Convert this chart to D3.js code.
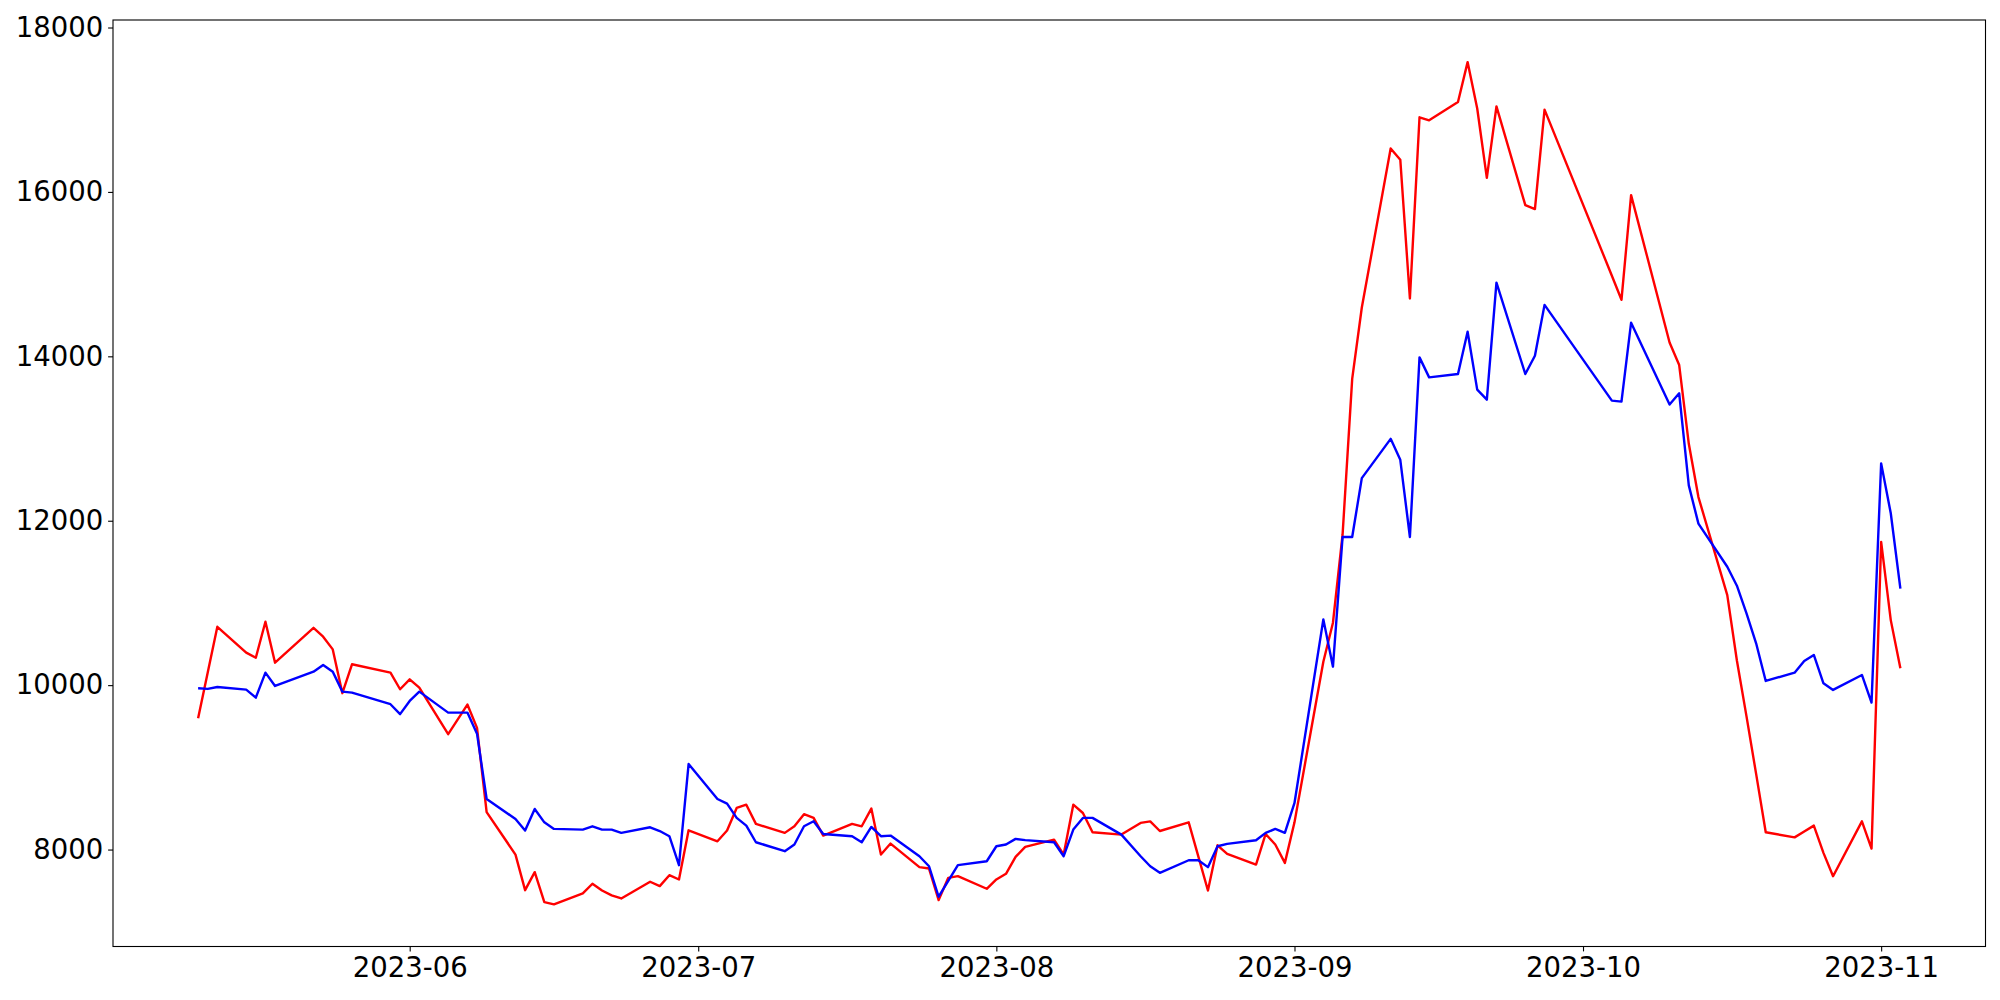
<!DOCTYPE html>
<html>
<head>
<meta charset="utf-8">
<script src="https://cdn.jsdelivr.net/npm/d3@7"></script>
<style>
  html, body { margin: 0; padding: 0; background: #ffffff; }
  svg { display: block; }
  text { font-family: "DejaVu Sans", sans-serif; }
</style>
</head>
<body>
<svg id="chart" width="2000" height="1000"></svg>
<script>
const dates = [
  "2023-05-10","2023-05-11","2023-05-12","2023-05-15","2023-05-16","2023-05-17","2023-05-18",
  "2023-05-22","2023-05-23","2023-05-24","2023-05-25","2023-05-26","2023-05-30","2023-05-31",
  "2023-06-01","2023-06-02","2023-06-05","2023-06-07","2023-06-08","2023-06-09","2023-06-12",
  "2023-06-13","2023-06-14","2023-06-15","2023-06-16","2023-06-19","2023-06-20","2023-06-21",
  "2023-06-22","2023-06-23","2023-06-26","2023-06-27","2023-06-28","2023-06-29","2023-06-30",
  "2023-07-03","2023-07-04","2023-07-05","2023-07-06","2023-07-07","2023-07-10","2023-07-11",
  "2023-07-12","2023-07-13","2023-07-14","2023-07-17","2023-07-18","2023-07-19","2023-07-20",
  "2023-07-21","2023-07-24","2023-07-25","2023-07-26","2023-07-27","2023-07-28","2023-07-31",
  "2023-08-01","2023-08-02","2023-08-03","2023-08-04","2023-08-07","2023-08-08","2023-08-09",
  "2023-08-10","2023-08-11","2023-08-14","2023-08-16","2023-08-17","2023-08-18","2023-08-21",
  "2023-08-22","2023-08-23","2023-08-24","2023-08-25","2023-08-28","2023-08-29","2023-08-30",
  "2023-08-31","2023-09-01","2023-09-04","2023-09-05","2023-09-06","2023-09-07","2023-09-08",
  "2023-09-11","2023-09-12","2023-09-13","2023-09-14","2023-09-15","2023-09-18","2023-09-19",
  "2023-09-20","2023-09-21","2023-09-22","2023-09-25","2023-09-26","2023-09-27","2023-10-04",
  "2023-10-05","2023-10-06","2023-10-10","2023-10-11","2023-10-12","2023-10-13","2023-10-16",
  "2023-10-17","2023-10-18","2023-10-19","2023-10-20","2023-10-23","2023-10-24","2023-10-25",
  "2023-10-26","2023-10-27","2023-10-30","2023-10-31","2023-11-01","2023-11-02","2023-11-03"
];

const redValues = [
  9598,10154,10710,10395,10334,10771,10273,
  10698,10589,10435,9902,10254,10152,9950,
  10071,9970,9404,9764,9480,8455,7939,
  7506,7725,7360,7333,7466,7584,7502,
  7442,7405,7608,7555,7688,7636,8234,
  8101,8231,8506,8546,8312,8203,8283,
  8430,8385,8170,8312,8283,8498,7939,
  8073,7786,7769,7385,7656,7676,7523,
  7636,7705,7911,8033,8121,7939,8546,
  8445,8210,8182,8324,8343,8226,8331,
  7917,7502,8052,7948,7818,8190,8061,
  7838,8331,10285,10760,11830,13725,14594,
  16528,16392,14703,16908,16871,17093,17579,
  17015,16171,17041,15840,15791,17001,14981,
  14688,15961,14169,13894,12936,12288,11095,
  10300,9620,8920,8210,8148,8220,8291,
  7960,7676,8343,8012,11742,10791,10205
];

const blueValues = [
  9962,9954,9978,9945,9848,10152,9990,
  10164,10245,10164,9921,9909,9768,9647,
  9808,9921,9666,9666,9410,8615,8372,
  8231,8494,8331,8251,8243,8283,8243,
  8243,8203,8271,8225,8162,7810,9040,
  8615,8558,8385,8291,8089,7980,8061,
  8283,8345,8190,8162,8089,8275,8162,
  8170,7919,7797,7426,7618,7810,7858,
  8040,8061,8130,8115,8089,7919,8243,
  8385,8385,8182,7919,7797,7717,7870,
  7870,7786,8040,8069,8113,8203,8251,
  8203,8567,10800,10225,11802,11802,12518,
  12996,12741,11802,13987,13744,13785,14299,
  13595,13473,14897,13785,14007,14626,13461,
  13449,14409,13413,13550,12430,11965,11440,
  11210,10873,10509,10051,10152,10294,10367,
  10022,9942,10124,9788,12698,12091,11173
];

const yTickValues = [8000, 10000, 12000, 14000, 16000, 18000];
const xTickLabels = ["2023-06","2023-07","2023-08","2023-09","2023-10","2023-11"];

const parse = d3.timeParse("%Y-%m-%d");
const parseMonth = d3.timeParse("%Y-%m");
const xDates = dates.map(parse);

const svg = d3.select("#chart");
const W = 2000, H = 1000;
const plot = { left: 113, right: 1985.5, top: 20, bottom: 946.5 };

svg.append("rect").attr("x", 0).attr("y", 0).attr("width", W).attr("height", H).attr("fill", "#ffffff");

// x domain with 5% margins (matplotlib autoscale)
const xExt = d3.extent(xDates);
const xSpan = xExt[1] - xExt[0];
const x = d3.scaleTime()
  .domain([new Date(+xExt[0] - 0.05 * xSpan), new Date(+xExt[1] + 0.05 * xSpan)])
  .range([plot.left, plot.right]);

const allVals = redValues.concat(blueValues);
const yExt = d3.extent(allVals);
const ySpan = yExt[1] - yExt[0];
const y = d3.scaleLinear()
  .domain([yExt[0] - 0.05 * ySpan, yExt[1] + 0.05 * ySpan])
  .range([plot.bottom, plot.top]);

const line = d3.line()
  .x((d, i) => x(xDates[i]))
  .y(d => y(d));

const g = svg.append("g");

g.append("path")
  .datum(redValues)
  .attr("fill", "none")
  .attr("stroke", "#ff0000")
  .attr("stroke-width", 2.4)
  .attr("stroke-linejoin", "round")
  .attr("d", line);

g.append("path")
  .datum(blueValues)
  .attr("fill", "none")
  .attr("stroke", "#0000ff")
  .attr("stroke-width", 2.4)
  .attr("stroke-linejoin", "round")
  .attr("d", line);

// axes
const fmt = d3.timeFormat("%Y-%m");
const xAxis = d3.axisBottom(x)
  .tickValues(xTickLabels.map(parseMonth))
  .tickFormat(fmt)
  .tickSizeInner(4.9)
  .tickSizeOuter(0)
  .tickPadding(6);

const yAxis = d3.axisLeft(y)
  .tickValues(yTickValues)
  .tickFormat(d3.format("d"))
  .tickSizeInner(4.9)
  .tickSizeOuter(0)
  .tickPadding(4.9);

const gx = svg.append("g")
  .attr("transform", `translate(0,${plot.bottom})`)
  .call(xAxis);
const gy = svg.append("g")
  .attr("transform", `translate(${plot.left},0)`)
  .call(yAxis);

[gx, gy].forEach(ax => {
  ax.select(".domain").remove();
  ax.selectAll(".tick line").attr("stroke", "#000").attr("stroke-width", 1.1);
  ax.selectAll(".tick text")
    .attr("fill", "#000")
    .style("font-family", "'DejaVu Sans', sans-serif")
    .style("font-size", "27.5px");
});

// frame
svg.append("rect")
  .attr("x", plot.left)
  .attr("y", plot.top)
  .attr("width", plot.right - plot.left)
  .attr("height", plot.bottom - plot.top)
  .attr("fill", "none")
  .attr("stroke", "#000")
  .attr("stroke-width", 1.1);
</script>
</body>
</html>
